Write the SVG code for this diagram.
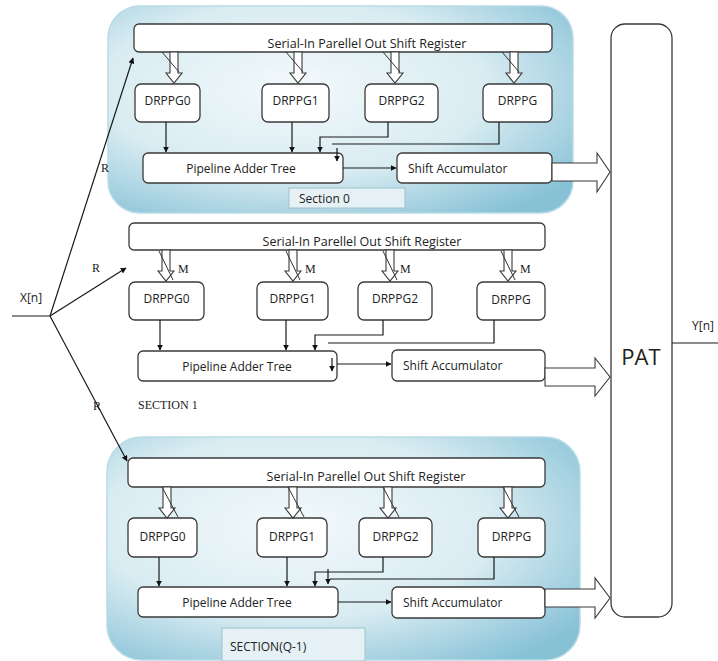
<svg xmlns="http://www.w3.org/2000/svg" width="718" height="661" viewBox="0 0 718 661">
<defs>
<radialGradient id="pg" cx="0.4" cy="0.4" r="0.75">
<stop offset="0" stop-color="#f3f9fb"/>
<stop offset="0.55" stop-color="#d9ecf2"/>
<stop offset="1" stop-color="#86c1d6"/>
</radialGradient>
<marker id="ah" viewBox="0 0 10 10" refX="9" refY="5" markerWidth="6" markerHeight="6" orient="auto" markerUnits="userSpaceOnUse">
<path d="M0,0 L10,5 L0,10 Z" fill="#111"/>
</marker>
</defs>
<style>
.panel{fill:url(#pg);stroke:#b9dbe6;stroke-width:1.5}
.box{fill:#fff;stroke:#3a3a3a;stroke-width:1.3}
.t{font-family:"Open Sans","Liberation Sans",sans-serif;font-size:12px;fill:#222}
.reg{font-family:"Open Sans","Liberation Sans",sans-serif;font-size:12.5px;fill:#222}
.s{font-family:"Liberation Serif",serif;font-size:12px;fill:#222}
.c{fill:none;stroke:#1a1a1a;stroke-width:1.2}
.ca{fill:none;stroke:#1a1a1a;stroke-width:1.2;marker-end:url(#ah)}
.hol{fill:#fff;stroke:#3a3a3a;stroke-width:1.1}
.sl{stroke:#333;stroke-width:1}
.lbl{fill:#e6f1f5;stroke:#9fc2cf;stroke-width:1}
</style>

<g id="section0-panel"><rect class="panel" x="108" y="6" width="465" height="207" rx="32"/></g>
<g id="sectionQ-panel"><rect class="panel" x="107" y="437" width="473" height="223" rx="35"/></g>

<g id="labels">
<text class="t" x="20" y="302">X[n]</text>
<text class="s" x="101" y="172">R</text>
<text class="s" x="92" y="272">R</text>
<text class="s" x="93" y="410">R</text>
<text class="t" x="692" y="330" font-size="11">Y[n]</text>
<text class="s" x="178" y="273">M</text>
<text class="s" x="305" y="273">M</text>
<text class="s" x="400" y="273">M</text>
<text class="s" x="520" y="273">M</text>
<text class="s" x="138" y="409" font-size="11">SECTION 1</text>
</g>

<g id="PAT"><rect class="box" x="611" y="24" width="61" height="593" rx="14"/><text x="641" y="365" text-anchor="middle" font-family="Open Sans, Liberation Sans, sans-serif" font-size="22" fill="#222">PAT</text></g>

<!-- Section 0 -->
<g id="s0-register"><rect class="box" x="134" y="24" width="418" height="28" rx="5"/><text class="reg" x="367" y="48" text-anchor="middle">Serial-In Parellel Out Shift Register</text></g>
<g id="s0-drppg0"><rect class="box" x="135" y="84" width="65" height="38" rx="6"/><text class="t" x="167.5" y="105" text-anchor="middle">DRPPG0</text></g>
<g id="s0-drppg1"><rect class="box" x="262" y="84" width="67" height="38" rx="6"/><text class="t" x="295.5" y="105" text-anchor="middle">DRPPG1</text></g>
<g id="s0-drppg2"><rect class="box" x="365" y="84" width="73" height="38" rx="6"/><text class="t" x="401.5" y="105" text-anchor="middle">DRPPG2</text></g>
<g id="s0-drppg"><rect class="box" x="483" y="84" width="69" height="38" rx="6"/><text class="t" x="517.5" y="105" text-anchor="middle">DRPPG</text></g>
<g id="s0-adder"><rect class="box" x="143" y="153" width="200" height="30" rx="5"/><text class="t" x="241" y="173" text-anchor="middle">Pipeline Adder Tree</text></g>
<g id="s0-acc"><rect class="box" x="397" y="153" width="155" height="30" rx="5"/><text class="t" x="408" y="173">Shift Accumulator</text></g>
<g id="s0-label"><rect class="lbl" x="289" y="188" width="116" height="20"/><text class="t" x="299" y="203" font-size="10">Section 0</text></g>

<!-- Section 1 -->
<g id="s1-register"><rect class="box" x="129" y="223" width="416" height="27" rx="5"/><text class="reg" x="362" y="246" text-anchor="middle">Serial-In Parellel Out Shift Register</text></g>
<g id="s1-drppg0"><rect class="box" x="129" y="282" width="75" height="38" rx="6"/><text class="t" x="166.5" y="303" text-anchor="middle">DRPPG0</text></g>
<g id="s1-drppg1"><rect class="box" x="257" y="282" width="71" height="38" rx="6"/><text class="t" x="292.5" y="303" text-anchor="middle">DRPPG1</text></g>
<g id="s1-drppg2"><rect class="box" x="358" y="282" width="74" height="38" rx="6"/><text class="t" x="395" y="303" text-anchor="middle">DRPPG2</text></g>
<g id="s1-drppg"><rect class="box" x="477" y="282" width="68" height="38" rx="6"/><text class="t" x="511" y="304" text-anchor="middle">DRPPG</text></g>
<g id="s1-adder"><rect class="box" x="138" y="351" width="199" height="30" rx="5"/><text class="t" x="237" y="371" text-anchor="middle">Pipeline Adder Tree</text></g>
<g id="s1-acc"><rect class="box" x="392" y="350" width="153" height="31" rx="5"/><text class="t" x="403" y="370">Shift Accumulator</text></g>

<!-- Section Q-1 -->
<g id="sq-register"><rect class="box" x="128" y="458" width="417" height="29" rx="5"/><text class="reg" x="366" y="481" text-anchor="middle">Serial-In Parellel Out Shift Register</text></g>
<g id="sq-drppg0"><rect class="box" x="128" y="518" width="69" height="39" rx="6"/><text class="t" x="162.5" y="541" text-anchor="middle">DRPPG0</text></g>
<g id="sq-drppg1"><rect class="box" x="257" y="518" width="70" height="39" rx="6"/><text class="t" x="292" y="541" text-anchor="middle">DRPPG1</text></g>
<g id="sq-drppg2"><rect class="box" x="359" y="518" width="73" height="39" rx="6"/><text class="t" x="395.5" y="541" text-anchor="middle">DRPPG2</text></g>
<g id="sq-drppg"><rect class="box" x="478" y="518" width="67" height="39" rx="6"/><text class="t" x="511.5" y="541" text-anchor="middle">DRPPG</text></g>
<g id="sq-adder"><rect class="box" x="138" y="587" width="200" height="30" rx="5"/><text class="t" x="237" y="607" text-anchor="middle">Pipeline Adder Tree</text></g>
<g id="sq-acc"><rect class="box" x="392" y="587" width="153" height="31" rx="5"/><text class="t" x="403" y="607">Shift Accumulator</text></g>
<g id="sq-label"><rect class="lbl" x="222" y="628" width="143" height="33"/><text class="t" x="230" y="651">SECTION(Q-1)</text></g>

<g id="connectors">
<path class="c" d="M12,316 H50"/>
<path class="ca" d="M50,316 L133,58"/>
<path class="ca" d="M50,316 L126,268"/>
<path class="ca" d="M50,316 L127,461"/>
<path class="c" d="M672,343 H718"/>
<!-- section 0 -->
<path class="ca" d="M166,122 V152"/>
<path class="ca" d="M292,122 V152"/>
<path class="ca" d="M388,122 V137 H320 V152"/>
<path class="c" d="M499,122 V144 H332"/>
<path class="ca" d="M337,148 V161"/>
<path class="ca" d="M343,168 H396"/>
<!-- section 1 -->
<path class="ca" d="M160,320 V350"/>
<path class="ca" d="M286,320 V350"/>
<path class="ca" d="M383,320 V335 H315 V350"/>
<path class="c" d="M494,320 V343 H328"/>
<path class="ca" d="M332,358 V371"/>
<path class="ca" d="M337,364 H391"/>
<!-- section Q-1 -->
<path class="ca" d="M159,557 V586"/>
<path class="ca" d="M287,557 V586"/>
<path class="ca" d="M383,557 V572 H315 V586"/>
<path class="c" d="M494,557 V579 H330"/>
<path class="ca" d="M328,569 V584"/>
<path class="ca" d="M338,602 H391"/>
<!-- hollow down arrows -->
<path class="hol" d="M170,52 V73 H166 L174,83 L182,73 H178 V52 Z"/>
<path class="hol" d="M294,52 V73 H290 L298,83 L306,73 H302 V52 Z"/>
<path class="hol" d="M391,52 V73 H387 L395,83 L403,73 H399 V52 Z"/>
<path class="hol" d="M510,52 V73 H506 L514,83 L522,73 H518 V52 Z"/>
<path class="sl" d="M162,52 L179,72 M286,52 L303,72 M383,52 L400,72 M502,52 L519,72"/>
<path class="hol" d="M162,250 V271 H158 L166,281 L174,271 H170 V250 Z"/>
<path class="hol" d="M289,250 V271 H285 L293,281 L301,271 H297 V250 Z"/>
<path class="hol" d="M386,250 V271 H382 L390,281 L398,271 H394 V250 Z"/>
<path class="hol" d="M504,250 V271 H500 L508,281 L516,271 H512 V250 Z"/>
<path class="sl" d="M159,251 L173,280 M286,251 L300,280 M383,251 L397,280 M501,251 L515,280"/>
<path class="hol" d="M163,487 V508 H159 L167,518 L175,508 H171 V487 Z"/>
<path class="hol" d="M289,487 V508 H285 L293,518 L301,508 H297 V487 Z"/>
<path class="hol" d="M384,487 V508 H380 L388,518 L396,508 H392 V487 Z"/>
<path class="hol" d="M504,487 V508 H500 L508,518 L516,508 H512 V487 Z"/>
<path class="sl" d="M162,487 L178,517 M288,487 L304,517 M383,487 L399,517 M503,487 L519,517"/>
<!-- hollow right arrows -->
<path class="hol" d="M552,163 H597 V153 L610,172 L597,192 V181 H552 Z"/>
<path class="hol" d="M545,368 H595 V358 L610,377 L595,396 V386 H545 Z"/>
<path class="hol" d="M545,589 H595 V578 L610,598 L595,618 V607 H545 Z"/>
</g>
</svg>
